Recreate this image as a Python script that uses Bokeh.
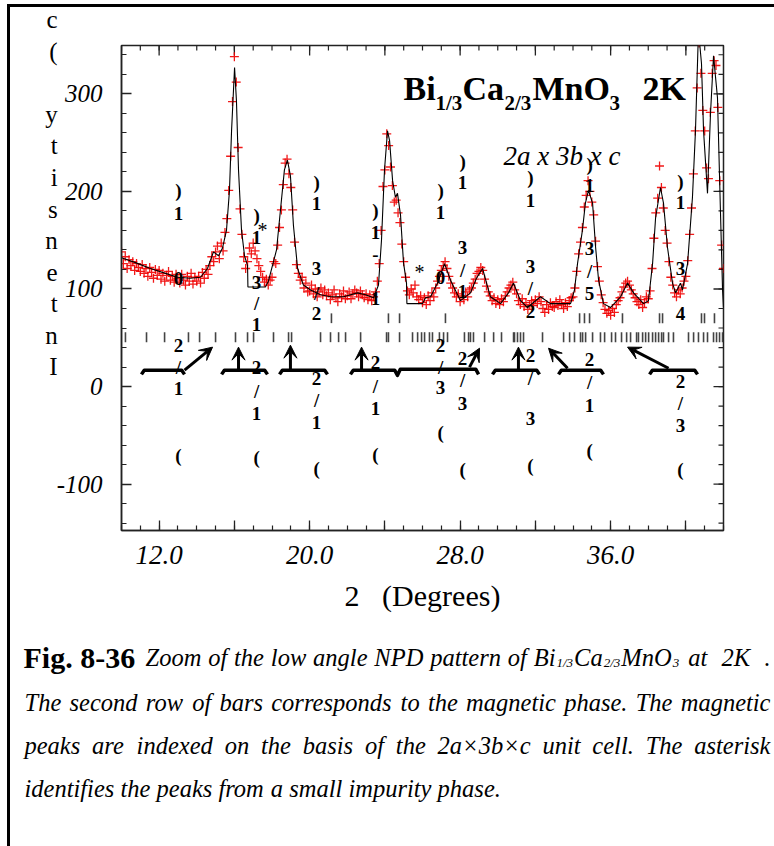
from bokeh.plotting import figure
from bokeh.layouts import column
from bokeh.models import (Range1d, FixedTicker, Label, Arrow, VeeHead)
from bokeh.core.properties import value
from bokeh.embed import file_html
from bokeh.resources import INLINE

# ---------------- data ----------------
obs_start = 10.0      # first observed 2theta (deg)
obs_step = 0.1        # instrument step (deg)
obs_counts = [
    138, 126, 133, 121, 130, 124, 128, 119, 126, 122,   # 10.x
    118, 125, 116, 121, 113, 122, 117, 111, 120, 114,   # 11.x
    119, 110, 116, 108, 114, 118, 109, 113, 107, 115,   # 12.x
    111, 106, 115, 109, 104, 113, 108, 116, 105, 112,   # 13.x
    108, 113, 106, 117, 111, 120, 115, 124, 133, 128,   # 14.x
    138, 144, 131, 147, 139, 158, 172, 201, 236, 292,   # 15.x
    338, 312, 245, 182, 156, 133, 121, 128, 142, 136,   # 16.x
    147, 139, 131, 124, 118, 112, 107, 110, 104, 109,   # 17.x
    112, 128, 126, 145, 163, 181, 207, 229, 233, 218,   # 18.x
    204, 181, 148, 125, 116, 109, 112, 101, 106, 97,    # 19.x
    98, 104, 95, 100, 92, 97, 101, 94, 99, 93,          # 20.x
    96, 89, 94, 99, 91, 87, 95, 92, 98, 90,             # 21.x
    93, 97, 90, 95, 99, 96, 92, 98, 94, 91,             # 22.x
    95, 89, 94, 88, 92, 97, 108, 126, 160, 205,         # 23.x
    222, 259, 247, 225, 206, 189, 191, 178, 168, 146,   # 24.x
    128, 112, 98, 94, 100, 96, 104, 92, 89, 93,         # 25.x
    86, 91, 84, 93, 88, 96, 92, 101, 108, 113,          # 26.x
    119, 124, 128, 121, 113, 106, 101, 96, 92, 95,      # 27.x
    87, 93, 89, 97, 92, 99, 101, 106, 110, 116,         # 28.x
    118, 122, 119, 110, 103, 97, 93, 88, 91, 85,        # 29.x
    89, 84, 90, 87, 93, 97, 101, 104, 107, 99,          # 30.x
    95, 88, 84, 90, 82, 86, 79, 84, 88, 83,             # 31.x
    89, 85, 92, 87, 80, 76, 84, 79, 86, 82,             # 32.x
    81, 87, 83, 89, 84, 80, 86, 82, 88, 91,             # 33.x
    92, 101, 118, 136, 148, 163, 184, 196, 211, 200,    # 34.x
    189, 176, 149, 123, 108, 94, 86, 79, 75, 78,        # 35.x
    73, 80, 76, 84, 88, 91, 97, 102, 106, 108,          # 36.x
    104, 99, 95, 91, 87, 84, 89, 81, 86, 92,            # 37.x
    90, 98, 121, 152, 178, 193, 226, 204, 183, 160,     # 38.x
    147, 128, 112, 104, 96, 92, 99, 95, 101, 108,       # 39.x
    113, 129, 156, 183, 218, 262, 306, 352, 321, 283,   # 40.x
    262, 224, 213, 281, 321, 334, 329, 286, 211, 145,   # 41.x
    121,                                                # 42.0
]

calc_two_theta = [10.00, 10.74, 11.54, 12.34, 12.98, 13.67, 14.20, 14.57, 14.89, 15.16,
                  15.37, 15.58, 15.74, 15.85, 16.01, 16.11, 16.22, 16.38, 16.54, 16.70,
                  16.72, 17.65, 17.81, 18.24, 18.45, 18.66, 18.82, 18.98, 19.14, 19.36,
                  19.67, 20.05, 20.58, 21.11, 21.80, 22.54, 22.97, 23.40, 23.66, 23.82,
                  23.98, 24.14, 24.25, 24.41, 24.56, 24.67, 24.83, 24.99, 25.15, 25.17,
                  26.00, 26.16, 26.43, 26.80, 27.17, 27.49, 28.02, 28.55, 28.87, 29.19,
                  29.61, 30.15, 30.57, 30.84, 31.21, 31.58, 32.27, 32.80, 33.87, 34.08,
                  34.24, 34.50, 34.66, 34.82, 35.04, 35.20, 35.36, 35.62, 35.99, 36.53,
                  36.90, 37.22, 37.75, 38.01, 38.23, 38.39, 38.65, 38.81, 39.02, 39.29,
                  39.45, 39.61, 39.71, 39.82, 40.09, 40.35, 40.51, 40.67, 40.83, 40.94,
                  41.15, 41.31, 41.47, 41.68, 41.84, 41.95, 42.00]
calc_counts = [132, 127, 121, 116, 112, 111, 112, 121, 138, 134,
               142, 160, 201, 262, 327, 293, 222, 160, 134, 124,
               102, 102, 108, 140, 181, 222, 232, 216, 165, 121,
               104, 99, 94, 92, 92, 96, 94, 91, 104, 150,
               222, 262, 252, 211, 194, 198, 176, 127, 106, 85,
               85, 91, 92, 106, 126, 109, 88, 96, 111, 121,
               92, 85, 96, 106, 88, 81, 92, 85, 85, 99,
               126, 160, 188, 201, 188, 143, 109, 85, 81, 92,
               106, 96, 85, 88, 126, 173, 204, 188, 143, 106,
               96, 102, 106, 99, 126, 194, 262, 365, 331, 262,
               198, 280, 339, 296, 178, 99, 81]

nuclear_positions = [21.16, 24.19, 24.78, 27.22, 34.35, 34.61, 34.88, 36.63, 38.60,
                     38.76, 40.83, 40.99, 41.52]
magnetic_positions = [10.21, 11.33, 12.29, 13.56, 14.15, 15.00, 16.06, 16.70, 17.02, 18.08,
                      18.88, 19.04, 20.58, 21.11, 21.54, 21.91, 22.71, 24.09, 24.19, 24.78,
                      25.47, 25.74, 25.95, 26.11, 26.37, 26.53, 26.90, 27.12, 27.33, 28.23,
                      28.45, 28.55, 28.71, 29.30, 29.78, 30.20, 30.84, 30.89, 31.05, 31.21,
                      31.37, 32.38, 33.50, 33.82, 34.08, 34.40, 34.51, 34.67, 35.04, 35.46,
                      35.68, 36.05, 36.26, 36.58, 36.85, 37.06, 37.38, 37.48, 37.70, 37.86,
                      38.02, 38.23, 38.39, 38.55, 38.71, 38.81, 39.08, 39.34, 40.14, 40.41,
                      40.67, 40.94, 41.15, 41.47, 41.63, 41.79, 41.95]

x_tick_values = [12, 20, 28, 36]
x_tick_labels = ["12.0", "20.0", "28.0", "36.0"]
y_tick_values = [-100, 0, 100, 200, 300]
y_tick_labels = ["-100", "0", "100", "200", "300"]
y_title_chars = ["c", "(", "", "y", "t", "i", "s", "n", "e", "t", "n", "I"]

# vertical (character-stacked) reflection index labels: x (deg), [(char, counts)]
hkl_stacks = [
    (13.03, [(")", 201), ("1", 177.5), ("0", 111), ("2", 42.4), ("/", 20), ("1", -1.5), ("(", -70.2)]),
    (17.18, [(")", 175.4), ("1", 152.8), ("3", 106.9), ("/", 85.4), ("1", 63.9), ("2", 19.9), ("/", -4.7), ("1", -27.2), ("(", -72.2)]),
    (20.37, [(")", 209.2), ("1", 187.7), ("3", 121.2), ("/", 95.6), ("2", 75.1), ("2", 8.5), ("/", -14), ("1", -36.5), ("(", -83.6)]),
    (23.50, [(")", 180.6), ("1", 158.0), ("-", 135.5), ("1", 90.5), ("2", 25), ("/", 0.4), ("1", -22.1), ("(", -69.2)]),
    (26.96, [(")", 201), ("1", 178.5), ("0", 112), ("2", 42.4), ("/", 20), ("3", -0.5), ("(", -46.6)]),
    (28.13, [(")", 230.7), ("1", 209.2), ("3", 142.7), ("/", 119.1), ("1", 97.6), ("2", 29.0), ("/", 6.5), ("3", -17.0), ("(", -84.6)]),
    (31.74, [(")", 214.3), ("1", 190.8), ("3", 123.2), ("/", 100.7), ("2", 77.1), ("2", 32.1), ("/", 8.6), ("3", -32.4), ("(", -80.5)]),
    (34.88, [(")", 227.6), ("1", 206.1), ("3", 141.7), ("/", 118.1), ("5", 95.6), ("2", 28.0), ("/", 4.5), ("1", -19.0), ("(", -65.1)]),
    (39.71, [(")", 210.2), ("1", 188.7), ("3", 121.2), ("4", 75.1), ("2", 5.5), ("/", -17.0), ("3", -39.5), ("(", -84.6)]),
]
impurity_marks = [(17.50, 160), (25.84, 117)]

# groups of magnetic reflections (brace spans, deg) and arrows (start -> end)
brace_spans = [(11.06, 13.35), (15.32, 17.76), (18.40, 20.95), (22.17, 24.67, 28.98),
               (29.72, 32.22), (33.23, 35.62), (38.07, 40.62)]
arrow_segments = [((13.35, 16.8), (14.84, 40.4)), ((16.22, 16.8), (16.22, 40.4)),
                  ((18.98, 16.8), (18.98, 42.4)), ((22.76, 16.8), (22.76, 40.4)),
                  ((28.50, 19.9), (29.03, 39.3)), ((31.10, 16.8), (31.10, 40.4)),
                  ((33.71, 18.8), (32.70, 39.3)), ((39.08, 18.8), (36.90, 40.4))]

# ---------------- layout (page pixel geometry) ----------------
SERIF = "Liberation Serif"
W, H = 774, 846
OX, OY = 10, 7                    # content origin inside the page frame rules
FL, FR, FT, FB = 121, 723, 45, 530  # plot frame on the page
MAIN_BOTTOM = 627                 # page y where the caption panel starts
X0, X1 = 10.0, 42.0
Y0, Y1 = -147.5, 349.5
PXX = (FR - FL) / (X1 - X0)
PXY = (FB - FT) / (Y1 - Y0)


def dx(px):
    return X0 + (px - FL) / PXX


def dy(py):
    return Y1 - (py - FT) / PXY


CW = W - OX
p = figure(width=CW, height=MAIN_BOTTOM - OY,
           x_range=Range1d(X0, X1), y_range=Range1d(Y0, Y1),
           output_backend="svg", toolbar_location=None,
           min_border_left=FL - OX, min_border_right=CW - (FR - OX),
           min_border_top=FT - OY, min_border_bottom=(MAIN_BOTTOM - OY) - (FB - OY))
p.background_fill_color = "white"
p.border_fill_color = "white"
p.outline_line_color = "#222222"
p.outline_line_width = 1.5
p.xgrid.visible = False
p.ygrid.visible = False

x_major = [12, 16, 20, 24, 28, 32, 36, 40]
x_minor = list(range(10, 43))
y_minor = list(range(-140, 360, 20))
x_ticker = FixedTicker(ticks=x_major, minor_ticks=x_minor)
y_ticker = FixedTicker(ticks=y_tick_values, minor_ticks=y_minor)

x_over = {16: "", 24: "", 32: "", 40: ""}
x_over.update({v: s for v, s in zip(x_tick_values, x_tick_labels)})
y_over = {v: s for v, s in zip(y_tick_values, y_tick_labels)}


def style_axis(ax):
    ax.axis_line_color = "#222222"
    ax.axis_line_width = 1.5
    ax.major_tick_in = 10
    ax.major_tick_out = 0
    ax.minor_tick_in = 5
    ax.minor_tick_out = 0
    ax.major_tick_line_color = "#222222"
    ax.minor_tick_line_color = "#222222"
    ax.major_tick_line_width = 1.3
    ax.minor_tick_line_width = 1.2
    ax.major_label_text_font = SERIF
    ax.major_label_text_font_style = "italic"
    ax.major_label_text_color = "black"


xa = p.xaxis[0]
xa.ticker = x_ticker
xa.major_label_overrides = x_over
style_axis(xa)
xa.major_label_text_font_size = "27px"
xa.major_label_standoff = 15
xa.axis_label = "2\u00a0\u00a0\u00a0(Degrees)"
xa.axis_label_text_font = SERIF
xa.axis_label_text_font_style = "normal"
xa.axis_label_text_font_size = "30px"
xa.axis_label_text_color = "black"
xa.axis_label_standoff = 12

ya = p.yaxis[0]
ya.ticker = y_ticker
ya.major_label_overrides = y_over
style_axis(ya)
ya.major_label_text_font_size = "25px"
ya.major_label_standoff = 19
# the intensity title is printed as upright characters stacked top to bottom
ya.axis_label = "\n".join([c if c else "\u00a0" for c in y_title_chars] + ["\u00a0"] * 6)
ya.axis_label_orientation = "horizontal"
ya.axis_label_text_font = SERIF
ya.axis_label_text_font_style = "normal"
ya.axis_label_text_font_size = "25px"
ya.axis_label_text_line_height = 1.17
ya.axis_label_text_align = "center"
ya.axis_label_text_color = "black"
ya.axis_label_standoff = -4

# ticks on the top and right edges of the frame
TK_MAJ_X, TK_MIN_X = 10 / PXX, 5 / PXX
TK_MAJ_Y, TK_MIN_Y = 10 / PXY, 5 / PXY
p.segment(x0=x_major, y0=Y1, x1=x_major, y1=Y1 - TK_MAJ_Y, line_color="#222222", line_width=1.3)
p.segment(x0=x_minor, y0=Y1, x1=x_minor, y1=Y1 - TK_MIN_Y, line_color="#222222", line_width=1.2)
p.segment(x0=X1, y0=y_tick_values, x1=X1 - TK_MAJ_X, y1=y_tick_values, line_color="#222222", line_width=1.3)
p.segment(x0=X1, y0=y_minor, x1=X1 - TK_MIN_X, y1=y_minor, line_color="#222222", line_width=1.2)

# ---------------- glyphs ----------------
obs_x = [round(obs_start + i * obs_step, 2) for i in range(len(obs_counts))]
p.scatter(obs_x, obs_counts, marker="cross", size=9, line_color="#f00000",
          line_width=1.3, line_alpha=0.9)
p.line(calc_two_theta, calc_counts, line_color="black", line_width=1.1)

p.segment(x0=nuclear_positions, y0=65, x1=nuclear_positions, y1=75,
          line_color="#444444", line_width=1.6)
p.segment(x0=magnetic_positions, y0=45.5, x1=magnetic_positions, y1=55.7,
          line_color="#444444", line_width=1.6)

hx, hy, ht = [], [], []
for xs, chars in hkl_stacks:
    for ch, yv in chars:
        hx.append(xs)
        hy.append(yv)
        ht.append(ch)
p.text(x=hx, y=hy, text=ht, text_font=value(SERIF), text_font_style="bold",
       text_font_size="19px", text_align="center", text_baseline="middle",
       text_color="black")
p.text(x=[m[0] for m in impurity_marks], y=[m[1] for m in impurity_marks],
       text=["*"] * len(impurity_marks), text_font=value(SERIF),
       text_font_size="20px", text_align="center", text_baseline="middle",
       text_color="black")

YT, YH, DH = 16.8, 12.5, 0.15
bxs, bys = [], []
for span in brace_spans:
    if len(span) == 2:
        a, b = span
        bxs.append([a, a + DH, b - DH, b])
        bys.append([YH, YT, YT, YH])
    else:
        a, m, b = span
        bxs.append([a, a + DH, m - DH, m, m + DH, b - DH, b])
        bys.append([YH, YT, YT, YH - 1, YT + 1, YT + 1, YH])
p.multi_line(bxs, bys, line_color="black", line_width=3.5, line_join="round")

for (x0, y0), (x1, y1) in arrow_segments:
    p.add_layout(Arrow(end=VeeHead(size=13, fill_color="black", line_color="black"),
                       x_start=x0, y_start=y0, x_end=x1, y_end=y1,
                       line_color="black", line_width=3))


def lab(fig, x, y, text, size, style="normal", align="left", baseline="alphabetic"):
    fig.add_layout(Label(x=x, y=y, text=text, text_font=SERIF,
                         text_font_size=f"{size}px", text_font_style=style,
                         text_align=align, text_baseline=baseline, text_color="black"))


# chart title (inside the frame)
for px_, py_, t_, s_ in [(403, 88, "Bi", 34), (435, 102, "1/3", 21), (462, 88, "Ca", 34),
                         (504, 102, "2/3", 21), (532, 88, "MnO", 34), (609, 102, "3", 21),
                         (642, 88, "2K", 34)]:
    lab(p, dx(px_), dy(py_), t_, s_, "bold")
lab(p, dx(503), dy(155), "2a x 3b x c", 27, "italic")

# ---------------- caption panel ----------------
cap = figure(width=CW, height=H - MAIN_BOTTOM, x_range=Range1d(OX, W),
             y_range=Range1d(H, MAIN_BOTTOM), output_backend="svg",
             toolbar_location=None, x_axis_type=None, y_axis_type=None,
             min_border=0)
cap.outline_line_color = None
cap.background_fill_color = "white"
cap.border_fill_color = "white"
cap.xgrid.visible = False
cap.ygrid.visible = False
for fig_ in (p, cap):
    try:
        fig_.frame_align = False
    except Exception:
        pass

TI = {' ': 250, 'a': 500, 'b': 500, 'c': 444, 'd': 500, 'e': 444, 'f': 278, 'g': 500,
      'h': 500, 'i': 278, 'j': 278, 'k': 444, 'l': 278, 'm': 722, 'n': 500, 'o': 500,
      'p': 500, 'q': 500, 'r': 389, 's': 389, 't': 278, 'u': 500, 'v': 444, 'w': 667,
      'x': 444, 'y': 444, 'z': 389, 'T': 556, '.': 250, ',': 250, '\u00d7': 675,
      '1': 500, '2': 500, '3': 500, '/': 278, 'Z': 556, 'N': 667, 'P': 611, 'D': 722,
      'B': 611, 'K': 667, 'C': 667, 'M': 833, 'O': 722}


def tw(s, size):
    return sum(TI.get(c, 500) for c in s) * size / 1000


def words(line, x_left, x_right, base, size, justify=True):
    ws = line.split(" ")
    wd = [tw(w, size) for w in ws]
    if justify and len(ws) > 1:
        gap = (x_right - x_left - sum(wd)) / (len(ws) - 1)
    else:
        gap = 250 * size / 1000
    x = x_left
    for w, d in zip(ws, wd):
        lab(cap, x, base, w, size, "italic")
        x += d + gap


CS = 24.5
SS = 13
lab(cap, 23, 657, "Fig. 8-36", 30, "bold")
words("Zoom of the low angle NPD pattern of Bi", 145, 555, 657, CS)
# formula continues with subscripts, each piece right after the previous one
xcur = 556
for piece, sub in [("1/3", True), ("Ca", False), ("2/3", True), ("MnO", False), ("3", True)]:
    if sub:
        lab(cap, xcur, 662, piece, SS, "italic")
        xcur += tw(piece, SS) + 1
    else:
        lab(cap, xcur, 657, piece, CS, "italic")
        xcur += tw(piece, CS) + 1
words("at 2K .", xcur + 8, 770, 657, CS)
words("The second row of bars corresponds to the magnetic phase. The magnetic",
      24, 770, 702, CS)
words("peaks are indexed on the basis of the 2a\u00d73b\u00d7c unit cell. The asterisk",
      24, 770, 745, CS)
words("identifies the peaks from a small impurity phase.", 24, 770, 788, CS, False)

# page frame: rules on the top and left of the whole figure
page = column(p, cap, spacing=0,
              styles={"margin-left": "7px", "margin-top": "4px",
                      "border-left": "3px solid black", "border-top": "3px solid black"})

open("out.html", "w").write(file_html(page, INLINE))
